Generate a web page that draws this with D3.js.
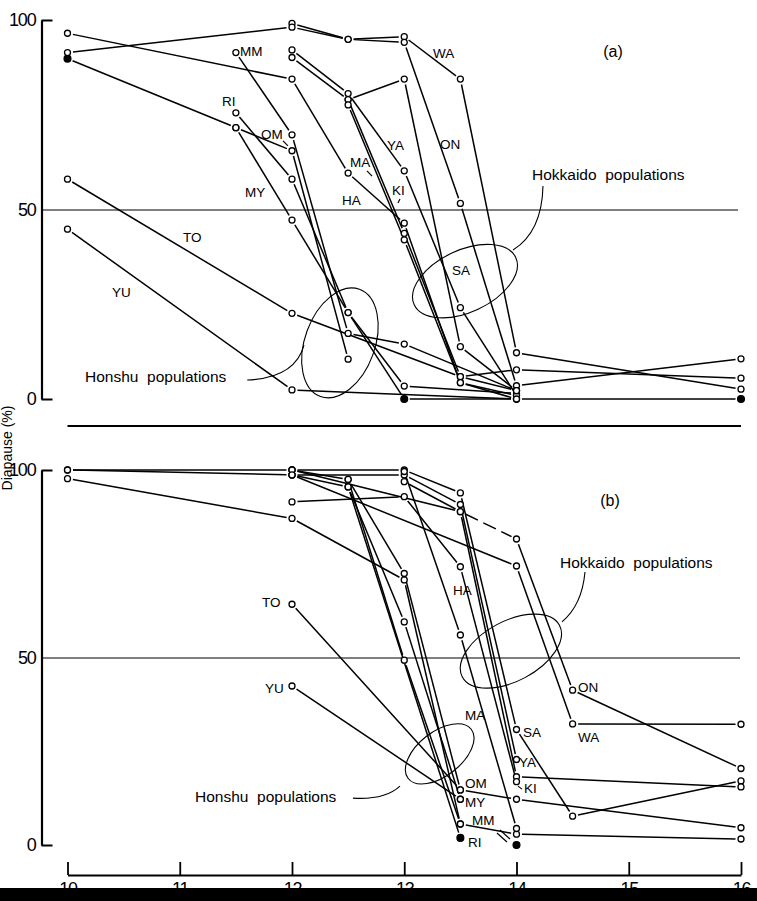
<!DOCTYPE html>
<html><head><meta charset="utf-8">
<script src="https://cdn.jsdelivr.net/npm/d3@7"></script>
<style>
html,body{margin:0;padding:0;background:#fff;}
svg{display:block;}
text{font-family:"Liberation Sans","DejaVu Sans",Arial,sans-serif;fill:#000;}
</style></head>
<body>
<svg id="chart" width="757" height="901"></svg>
<script>
// ---------- DATA ----------
const photoperiods = [10, 11, 12, 13, 14, 15, 16];   // x tick labels (h)
const yTicks = [0, 50, 100];                          // diapause %

// Panel (a): each point = [photoperiod, % diapause, filled?]
const A_OM = [[10, 89.8, 1], [11.5, 71.6], [12, 65.5], [12.5, 10.5]];
const A_MY = [[11.5, 71.6], [12, 47.2], [12.5, 22.8], [13, 0, 1], [14, 0], [16, 0, 1]];
const A_MM = [[11.5, 91.4], [12, 69.7], [12.5, 17.3], [13, 14.5], [14, 2.2]];
const A_RI = [[11.5, 75.5], [12, 58.0], [12.5, 22.8], [13, 3.4], [14, 1.5]];
const A_TO = [[10, 58.0], [12, 22.6], [13.5, 5.9], [14, 7.7], [16, 5.5]];
const A_YU = [[10, 44.8], [12, 2.4], [14, 0]];
const A_WA = [[12, 99.1], [12.5, 94.9], [13, 95.6], [13.5, 84.4], [14, 12.2], [16, 2.6]];
const A_ON = [[10, 91.4], [12, 98.1], [12.5, 94.9], [13, 94.1], [13.5, 51.6], [14, 3.5], [16, 10.6]];
const A_HA = [[10, 96.5], [12, 84.4], [12.5, 59.6], [13, 46.4], [13.5, 4.3], [14, 0.9]];
const A_YA = [[12, 92.1], [12.5, 80.6], [13, 60.2], [13.5, 24.1], [14, 0.9]];
const A_SA = [[12.5, 79.0], [13, 84.4], [13.5, 13.8], [14, 2.2]];
const A_MA = [[12, 90.1], [12.5, 79.0], [13, 43.7], [13.5, 5.9], [14, 2.2]];
const A_KI = [[12.5, 77.6], [13, 42.0], [13.5, 4.3], [14, 0]];
const seriesA = [A_OM, A_MY, A_MM, A_RI, A_TO, A_YU, A_WA, A_ON, A_HA, A_YA, A_SA, A_MA, A_KI];

// Panel (b)
const B_ON = [[10, 100], [12, 100], [13.5, 88.9], [14, 81.6], [14.5, 41.3], [16, 20.4]];
const B_WA = [[10, 100], [12, 98.7], [14, 74.4], [14.5, 32.3], [16, 32.2]];
const B_X  = [[10, 97.7], [12, 87.1], [13, 70.7], [13.5, 5.6]];
const B_OM = [[12, 100], [12.5, 97.5], [13, 72.4], [13.5, 14.7], [14, 12.2], [16, 4.6]];
const B_MY = [[12, 98.7], [12.5, 95.5], [13, 59.5], [13.5, 12.2]];
const B_MM = [[12.5, 97.5], [13, 49.3], [13.5, 5.6], [14, 2.9], [16, 1.6]];
const B_RI = [[12.5, 95.5], [13.5, 1.9, 1]];
const B_TO = [[12, 64.2], [13.5, 14.7]];
const B_YU = [[12, 42.4], [13.5, 12.2]];
const B_SA = [[12, 100], [13, 100], [13.5, 93.9], [14, 30.8], [14.5, 7.7], [16, 17.1]];
const B_YA = [[12, 98.7], [13, 98.7], [13.5, 90.8], [14, 22.8]];
const B_KI = [[13, 96.9], [13.5, 88.9], [14, 18.2], [16, 15.5]];
const B_HA = [[12, 91.5], [13, 92.9], [13.5, 74.2], [14, 16.9]];
const B_MA = [[13, 99.6], [13.5, 56.0], [14, 4.4]];
const B_EXTRA = [[14, 0, 1]];
const seriesB = [B_ON, B_WA, B_X, B_OM, B_MY, B_MM, B_RI, B_TO, B_YU, B_SA, B_YA, B_KI, B_HA, B_MA, B_EXTRA];

// Annotation labels [text, photoperiod, %]
const labelsA = [["MM",11.537,90.5],["RI",11.376,77.3],["OM",11.724,68.6],["MY",11.581,53.3],
  ["TO",11.029,41.4],["YU",10.396,26.9],["HA",12.445,51.2],["MA",12.517,61.2],["YA",12.846,65.7],
  ["KI",12.891,53.8],["ON",13.318,66.0],["WA",13.256,90.0],["SA",13.425,32.7]];
const labelsB = [["TO",11.733,63.5],["YU",11.759,40.5],["HA",13.434,66.7],["MA",13.541,33.3],
  ["OM",13.541,15.2],["MY",13.541,10.1],["MM",13.604,5.3],["RI",13.568,-0.5],["SA",14.058,28.8],
  ["YA",14.022,20.8],["KI",14.067,13.9],["ON",14.548,40.8],["WA",14.548,27.5]];

// ---------- CHART ----------
const svg = d3.select("#chart");
const x = d3.scaleLinear().domain([10, 16]).range([67.5, 741]);
const yA = d3.scaleLinear().domain([0, 100]).range([399, 20]);
const yB = d3.scaleLinear().domain([0, 100]).range([845, 470]);
const axisX = 41.5;

function yAxis(y, right) {
  const g = svg.append("g").attr("transform", `translate(${axisX},0)`)
    .call(d3.axisLeft(y).tickValues(yTicks).tickSizeInner(-11).tickSizeOuter(0).tickPadding(6));
  g.select(".domain").attr("stroke", "#000").attr("stroke-width", 2.2);
  g.selectAll(".tick line").attr("stroke", "#000").attr("stroke-width", 2);
  g.selectAll(".tick").filter(d => d === 50).select("line")
    .attr("x2", right - axisX).attr("stroke-width", 1.1);
  g.selectAll(".tick text").attr("font-size", 18).attr("font-family", "Liberation Sans, Arial, sans-serif")
    .attr("letter-spacing", -1.2);
}
yAxis(yA, 738);
yAxis(yB, 740);

// separator
svg.append("line").attr("x1", x(10)).attr("x2", x(16)).attr("y1", 426).attr("y2", 426)
  .attr("stroke", "#000").attr("stroke-width", 2.2);

// x axis
const gx = svg.append("g").attr("transform", "translate(0,875)")
  .call(d3.axisBottom(x).tickValues(photoperiods).tickFormat(d3.format("d"))
    .tickSizeInner(-13).tickSizeOuter(0).tickPadding(7));
gx.select(".domain").attr("stroke", "#000").attr("stroke-width", 2.2);
gx.selectAll(".tick line").attr("stroke", "#000").attr("stroke-width", 1.8);
gx.selectAll(".tick text").attr("font-size", 18).attr("letter-spacing", -1.2);

// y axis title
svg.append("text").attr("transform", "translate(12,448) rotate(-90)")
  .attr("text-anchor", "middle").attr("font-size", 14).text("Diapause (%)");

// data
function drawPanel(series, y, dashed) {
  const gL = svg.append("g"), gP = svg.append("g");
  const gap = 5.5;
  series.forEach((s, si) => {
    const pts = s.map(d => ({px: x(d[0]), py: y(d[1]), f: d[2] === 1}));
    for (let i = 0; i < pts.length - 1; i++) {
      const a = pts[i], b = pts[i + 1];
      const dx = b.px - a.px, dy = b.py - a.py, L = Math.hypot(dx, dy);
      if (L < 2 * gap + 2) continue;
      const ux = dx / L, uy = dy / L;
      const ln = gL.append("line")
        .attr("x1", a.px + ux * gap).attr("y1", a.py + uy * gap)
        .attr("x2", b.px - ux * gap).attr("y2", b.py - uy * gap)
        .attr("stroke", "#000").attr("stroke-width", 1.5);
      if (dashed && dashed(si, i)) ln.attr("stroke-dasharray", "14,6");
    }
    pts.forEach(p => gP.append("circle").attr("cx", p.px).attr("cy", p.py).attr("r", p.f ? 3.4 : 3)
      .attr("fill", p.f ? "#000" : "#fff").attr("stroke", "#000").attr("stroke-width", 1.3));
  });
}
drawPanel(seriesA, yA);
drawPanel(seriesB, yB, (si, i) => si === 0 && i === 2);

// labels
function drawLabels(list, y) {
  list.forEach(l => svg.append("text").attr("x", x(l[1])).attr("y", y(l[2]))
    .attr("font-size", 13.5).attr("font-family", "DejaVu Sans, sans-serif").text(l[0]));
}
drawLabels(labelsA, yA);
drawLabels(labelsB, yB);

// panel tags & group captions
function caption(y, t, px, py) {
  svg.append("text").attr("x", x(px)).attr("y", y(py)).attr("font-size", 15.5)
    .attr("xml:space", "preserve").attr("font-family", "DejaVu Sans, sans-serif").text(t);
}
svg.append("text").attr("x", x(14.86)).attr("y", yA(90.2)).attr("text-anchor", "middle").attr("font-size", 16).text("(a)");
svg.append("text").attr("x", x(14.833)).attr("y", yB(90.4)).attr("text-anchor", "middle").attr("font-size", 16).text("(b)");
caption(yA, "Hokkaido  populations", 14.138, 57.8);
caption(yA, "Honshu  populations", 10.156, 4.5);
caption(yB, "Hokkaido  populations", 14.388, 73.9);
caption(yB, "Honshu  populations", 11.136, 11.5);

// ellipses [photoperiod, %, rx, ry, rotation]
function ell(y, cx, cy, rx, ry, rot) {
  svg.append("ellipse").attr("transform", `translate(${x(cx)},${y(cy)}) rotate(${rot})`)
    .attr("rx", rx).attr("ry", ry).attr("fill", "none").attr("stroke", "#000").attr("stroke-width", 1.1);
}
ell(yA, 12.427, 14.8, 35, 57, 20);
ell(yA, 13.541, 31.1, 56, 31, -25);
ell(yB, 13.95, 51.7, 55, 30, -28);
ell(yB, 13.316, 24.3, 40, 22, -38);

// leader curves
function leader(y, p0, c, p1) {
  svg.append("path").attr("d", `M${x(p0[0])},${y(p0[1])} Q${x(c[0])},${y(c[1])} ${x(p1[0])},${y(p1[1])}`)
    .attr("fill", "none").attr("stroke", "#000").attr("stroke-width", 1.1);
}
leader(yA, [11.601, 5.0], [12.027, 5.5], [12.107, 14.2]);
leader(yA, [14.236, 56.2], [14.227, 44.1], [13.969, 39.3]);
leader(yB, [14.61, 72.8], [14.584, 64.0], [14.405, 59.5]);
leader(yB, [12.543, 12.5], [12.829, 12.0], [12.962, 15.7]);

// small pointer ticks next to labels
function tick(y, a, b) {
  svg.append("line").attr("x1", x(a[0])).attr("y1", y(a[1])).attr("x2", x(b[0])).attr("y2", y(b[1]))
    .attr("stroke", "#000").attr("stroke-width", 1.2);
}
tick(yA, [11.92, 68.1], [11.964, 66.8]);
tick(yA, [12.668, 60.2], [12.713, 58.8]);
tick(yA, [12.962, 52.8], [12.944, 51.7]);
tick(yB, [14.013, 15.7], [14.049, 14.9]);
tick(yB, [13.826, 3.2], [13.915, 0.8]);
tick(yB, [13.853, 4.0], [13.942, 1.6]);

// black scan band at the bottom edge
svg.append("rect").attr("x", 0).attr("y", 888).attr("width", 757).attr("height", 13).attr("fill", "#000");
</script>
</body></html>
